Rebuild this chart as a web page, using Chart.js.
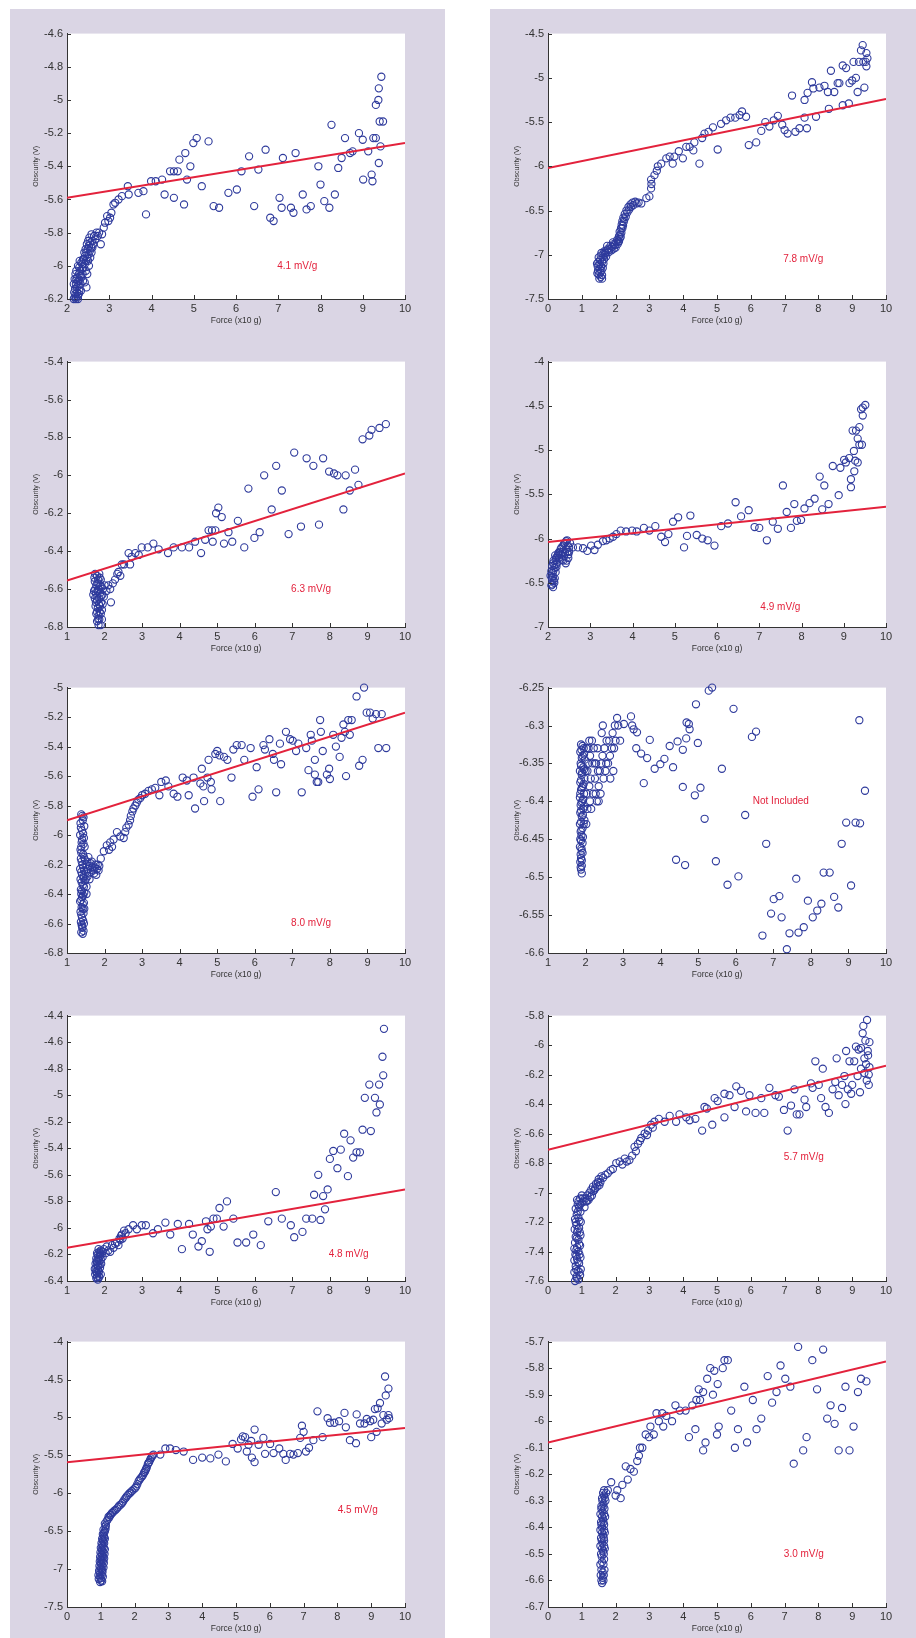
<!DOCTYPE html>
<html>
<head>
<meta charset="utf-8">
<script src="https://cdn.jsdelivr.net/npm/chart.js@4.4.1/dist/chart.umd.min.js"></script>
<style>
  body { margin: 0; width: 916px; height: 1638px; background: #fff; position: relative; overflow: hidden; }
  .band { position: absolute; top: 9px; bottom: 0; background: #dad5e4; }
  canvas.sub { position: absolute; }
</style>
</head>
<body>
<div class="band" style="left:10px;width:435px"></div>
<div class="band" style="left:490px;width:426px"></div>
<script>
// ---- data: [force (x10 g), obscurity (V)] ----

// left, row 1 : 4.1 mV/g
const p1Pts = [
  [2.18,-6.19],[2.2,-6.17],[2.22,-6.19],[2.24,-6.16],[2.19,-6.14],[2.23,-6.13],[2.26,-6.18],[2.21,-6.11],
  [2.25,-6.1],[2.18,-6.08],[2.2,-6.05],[2.24,-6.07],[2.27,-6.12],[2.29,-6.15],[2.3,-6.09],[2.28,-6.05],
  [2.32,-6.11],[2.31,-6.03],[2.34,-6.07],[2.35,-6.02],[2.37,-6.05],[2.36,-5.99],[2.39,-6.01],[2.4,-5.96],
  [2.42,-5.99],[2.43,-5.94],[2.45,-5.97],[2.46,-5.92],[2.48,-5.95],[2.49,-5.9],[2.51,-5.93],[2.52,-5.88],
  [2.54,-5.91],[2.55,-5.86],[2.57,-5.89],[2.6,-5.85],[2.62,-5.87],[2.64,-5.82],[2.67,-5.84],[2.7,-5.8],
  [2.73,-5.82],[2.76,-5.8],[2.8,-5.87],[2.83,-5.81],[2.87,-5.77],[2.9,-5.74],[2.95,-5.7],[2.98,-5.73],
  [3.02,-5.71],[3.05,-5.68],[3.1,-5.63],[3.14,-5.62],[3.22,-5.6],[3.3,-5.58],[3.44,-5.52],[3.46,-5.57],
  [3.69,-5.56],[3.81,-5.55],[3.87,-5.69],[3.99,-5.49],[4.1,-5.49],[4.25,-5.48],[4.31,-5.57],[4.44,-5.43],
  [4.53,-5.43],[4.53,-5.59],[4.62,-5.43],[4.66,-5.36],[4.77,-5.63],[4.8,-5.32],[4.84,-5.48],[4.92,-5.4],
  [4.99,-5.26],[5.07,-5.23],[5.19,-5.52],[5.35,-5.25],[5.47,-5.64],[5.6,-5.65],[5.82,-5.56],[6.02,-5.54],
  [6.13,-5.43],[6.31,-5.34],[6.43,-5.64],[6.53,-5.42],[6.7,-5.3],[6.81,-5.71],[6.89,-5.73],[7.03,-5.59],
  [7.08,-5.65],[7.11,-5.35],[7.3,-5.65],[7.36,-5.68],[7.41,-5.32],[7.58,-5.57],[7.67,-5.66],[7.77,-5.64],
  [7.95,-5.4],[8.0,-5.51],[8.09,-5.61],[8.21,-5.65],[8.26,-5.15],[8.34,-5.57],[8.42,-5.41],[8.5,-5.35],
  [8.58,-5.23],[8.7,-5.32],[8.76,-5.31],[8.91,-5.2],[9.0,-5.24],[9.01,-5.48],[9.13,-5.31],[9.21,-5.45],
  [9.23,-5.49],[9.25,-5.23],[9.31,-5.23],[9.38,-5.38],[9.31,-5.03],[9.37,-5.0],[9.38,-4.93],[9.44,-4.86],
  [9.4,-5.13],[9.48,-5.13],[9.42,-5.28],
  [2.16,-6.2],[2.21,-6.2],[2.26,-6.2],[2.17,-6.16],[2.28,-6.17],[2.16,-6.11],[2.27,-6.09],[2.22,-6.08],
  [2.32,-6.06],[2.29,-6.01],[2.34,-5.98],[2.38,-5.96],[2.41,-5.92],[2.44,-5.9],[2.47,-5.87],[2.5,-5.85],
  [2.53,-5.83],[2.58,-5.81],[2.22,-6.03],[2.26,-6.0],[2.3,-5.97],[2.5,-5.97],[2.45,-6.03],[2.38,-6.09],
  [2.33,-6.15],[2.42,-6.1],[2.48,-6.05],[2.52,-6.0],[2.46,-6.13],[2.55,-5.95],[2.58,-5.92],[2.6,-5.89]
];
const p1Fit = [[2, -5.59], [10, -5.26]];

// right, row 1 : 7.8 mV/g
const p2Pts = [
  [1.52,-7.27],[1.56,-7.25],[1.5,-7.22],[1.55,-7.2],[1.48,-7.18],[1.53,-7.16],[1.58,-7.18],[1.47,-7.13],
  [1.52,-7.11],[1.57,-7.13],[1.49,-7.08],[1.54,-7.06],[1.6,-7.08],[1.5,-7.03],[1.56,-7.01],[1.62,-7.03],
  [1.58,-6.98],[1.64,-6.99],[1.67,-6.96],[1.7,-6.98],[1.74,-6.95],[1.78,-6.93],[1.82,-6.94],[1.85,-6.9],
  [1.9,-6.91],[1.94,-6.88],[1.98,-6.89],[2.02,-6.86],[2.05,-6.83],[2.08,-6.85],[2.1,-6.79],[2.12,-6.74],
  [2.14,-6.77],[2.16,-6.7],[2.18,-6.66],[2.2,-6.62],[2.23,-6.58],[2.27,-6.54],[2.32,-6.5],[2.38,-6.46],
  [2.44,-6.43],[2.5,-6.41],[2.58,-6.4],[2.76,-6.42],[2.91,-6.36],[3.0,-6.34],[3.05,-6.25],[3.06,-6.2],
  [3.05,-6.15],[3.15,-6.1],[3.22,-6.05],[3.25,-6.0],[3.35,-5.97],[3.5,-5.91],[3.6,-5.89],[3.69,-5.97],
  [3.74,-5.89],[3.87,-5.83],[3.99,-5.91],[4.09,-5.78],[4.19,-5.78],[4.3,-5.82],[4.33,-5.73],[4.48,-5.97],
  [4.56,-5.68],[4.63,-5.63],[4.75,-5.61],[4.88,-5.56],[5.02,-5.81],[5.12,-5.52],[5.27,-5.48],[5.4,-5.45],
  [5.54,-5.45],[5.67,-5.42],[5.74,-5.38],[5.86,-5.44],[5.94,-5.76],[6.16,-5.73],[6.31,-5.6],[6.43,-5.5],
  [6.55,-5.55],[6.68,-5.48],[6.8,-5.43],[6.93,-5.53],[7.0,-5.59],[7.09,-5.63],[7.22,-5.2],[7.32,-5.61],
  [7.44,-5.57],[7.59,-5.45],[7.66,-5.57],[7.59,-5.25],[7.68,-5.17],[7.81,-5.05],[7.85,-5.12],[7.93,-5.44],
  [8.03,-5.11],[8.18,-5.09],[8.31,-5.35],[8.28,-5.16],[8.37,-4.92],[8.47,-5.16],[8.57,-5.06],[8.62,-5.06],
  [8.72,-5.31],[8.72,-4.86],[8.82,-4.89],[8.9,-5.29],[8.92,-5.06],[9.0,-5.03],[9.04,-4.82],[9.11,-5.0],
  [9.16,-5.16],[9.2,-4.82],[9.26,-4.69],[9.31,-4.63],[9.33,-4.82],[9.36,-5.11],[9.4,-4.82],[9.42,-4.72],
  [9.42,-4.87],[9.45,-4.78],
  [1.6,-7.23],[1.62,-7.15],[1.64,-7.1],[1.46,-7.21],[1.45,-7.1],[1.6,-7.27],[1.66,-7.05],[1.68,-7.0],
  [1.72,-7.02],[1.75,-6.9],[1.8,-6.97],[1.88,-6.95],[1.95,-6.93],[2.0,-6.92],[1.92,-6.86],[2.06,-6.88],
  [2.1,-6.85],[2.12,-6.82],[2.15,-6.8],[2.17,-6.75],[2.2,-6.7],[2.22,-6.67],[2.24,-6.63],[2.26,-6.6],
  [2.3,-6.57],[2.35,-6.52],[2.4,-6.49],[2.45,-6.46],[2.52,-6.44],[2.62,-6.42],[2.68,-6.41]
];
const p2Fit = [[0, -6.02], [10, -5.24]];

// left, row 2 : 6.3 mV/g
const p3Pts = [
  [1.75,-6.52],[1.8,-6.53],[1.86,-6.52],[1.9,-6.55],[1.74,-6.56],[1.78,-6.58],[1.84,-6.57],[1.92,-6.59],
  [1.72,-6.61],[1.77,-6.62],[1.82,-6.61],[1.88,-6.62],[1.94,-6.63],[1.74,-6.65],[1.8,-6.66],[1.86,-6.65],
  [1.91,-6.67],[1.76,-6.69],[1.82,-6.7],[1.88,-6.69],[1.93,-6.71],[1.78,-6.73],[1.84,-6.74],[1.9,-6.73],
  [1.8,-6.77],[1.86,-6.76],[1.9,-6.79],[1.96,-6.6],[2.0,-6.58],[1.98,-6.64],[2.05,-6.61],[2.1,-6.58],
  [2.17,-6.67],[2.15,-6.6],[2.22,-6.57],[2.28,-6.55],[2.34,-6.52],[2.37,-6.51],[2.42,-6.53],[2.46,-6.47],
  [2.52,-6.47],[2.64,-6.41],[2.68,-6.47],[2.72,-6.43],[2.82,-6.41],[2.91,-6.42],[2.99,-6.38],[3.15,-6.38],
  [3.3,-6.36],[3.44,-6.39],[3.69,-6.41],[3.84,-6.38],[4.06,-6.38],[4.25,-6.38],[4.41,-6.35],[4.57,-6.41],
  [4.68,-6.34],[4.77,-6.29],[4.86,-6.29],[4.88,-6.35],[4.95,-6.29],[4.97,-6.2],[5.03,-6.17],[5.12,-6.22],
  [5.18,-6.36],[5.3,-6.3],[5.4,-6.35],[5.55,-6.24],[5.72,-6.38],[5.83,-6.07],[5.99,-6.33],[6.13,-6.3],
  [6.25,-6.0],[6.45,-6.18],[6.57,-5.95],[6.72,-6.08],[6.9,-6.31],[7.05,-5.88],[7.23,-6.27],[7.38,-5.91],
  [7.56,-5.95],[7.71,-6.26],[7.82,-5.91],[7.98,-5.98],[8.11,-5.99],[8.2,-6.0],[8.36,-6.18],[8.42,-6.0],
  [8.53,-6.08],[8.67,-5.97],[8.76,-6.05],[8.87,-5.81],[9.05,-5.79],[9.11,-5.76],[9.32,-5.75],[9.49,-5.73],
  [1.73,-6.54],[1.83,-6.55],[1.89,-6.58],[1.75,-6.6],[1.85,-6.6],[1.79,-6.64],[1.9,-6.64],[1.77,-6.67],
  [1.85,-6.68],[1.8,-6.72],[1.87,-6.72],[1.83,-6.76],[1.93,-6.76],[1.84,-6.79],[1.7,-6.63],[1.95,-6.68],
  [1.81,-6.57],[1.87,-6.54]
];
const p3Fit = [[1, -6.555], [10, -5.99]];

// right, row 2 : 4.9 mV/g
const p4Pts = [
  [2.08,-6.53],[2.12,-6.55],[2.15,-6.5],[2.1,-6.47],[2.06,-6.42],[2.12,-6.43],[2.16,-6.45],[2.08,-6.37],
  [2.13,-6.36],[2.18,-6.38],[2.1,-6.31],[2.15,-6.3],[2.2,-6.32],[2.13,-6.25],[2.18,-6.24],[2.22,-6.27],
  [2.17,-6.19],[2.22,-6.2],[2.26,-6.22],[2.25,-6.16],[2.3,-6.18],[2.33,-6.24],[2.3,-6.12],[2.35,-6.15],
  [2.38,-6.2],[2.36,-6.08],[2.4,-6.05],[2.42,-6.12],[2.44,-6.25],[2.45,-6.02],[2.47,-6.08],[2.48,-6.18],
  [2.5,-6.1],[2.52,-6.05],[2.59,-6.1],[2.71,-6.1],[2.83,-6.11],[2.93,-6.14],[3.02,-6.08],[3.1,-6.13],
  [3.18,-6.07],[3.3,-6.03],[3.38,-6.02],[3.46,-6.0],[3.54,-5.98],[3.62,-5.95],[3.72,-5.91],[3.85,-5.92],
  [3.99,-5.91],[4.1,-5.92],[4.27,-5.88],[4.4,-5.91],[4.54,-5.86],[4.68,-5.98],[4.77,-6.04],[4.85,-5.95],
  [4.96,-5.81],[5.08,-5.76],[5.22,-6.1],[5.29,-5.97],[5.37,-5.74],[5.52,-5.96],[5.65,-6.0],[5.78,-6.02],
  [5.94,-6.08],[6.1,-5.86],[6.26,-5.83],[6.44,-5.59],[6.57,-5.75],[6.75,-5.68],[6.89,-5.87],[7.0,-5.88],
  [7.18,-6.02],[7.32,-5.81],[7.44,-5.89],[7.56,-5.4],[7.65,-5.7],[7.75,-5.88],[7.83,-5.61],[7.89,-5.8],
  [7.99,-5.79],[8.07,-5.66],[8.19,-5.6],[8.31,-5.55],[8.43,-5.3],[8.49,-5.67],[8.54,-5.4],[8.64,-5.61],
  [8.74,-5.18],[8.88,-5.51],[8.92,-5.2],[9.01,-5.11],[9.05,-5.14],[9.13,-5.09],[9.17,-5.33],[9.17,-5.42],
  [9.21,-4.78],[9.24,-5.01],[9.25,-5.24],[9.27,-5.12],[9.29,-4.78],[9.33,-4.87],[9.33,-5.14],[9.37,-4.74],
  [9.37,-4.94],[9.41,-4.54],[9.43,-4.94],[9.45,-4.61],[9.45,-4.52],[9.51,-4.49],
  [2.1,-6.52],[2.14,-6.48],[2.09,-6.44],[2.11,-6.39],[2.16,-6.33],[2.12,-6.28],[2.2,-6.29],[2.19,-6.22],
  [2.24,-6.18],[2.28,-6.15],[2.32,-6.1],[2.38,-6.06],[2.43,-6.03],[2.46,-6.15],[2.4,-6.16],[2.36,-6.25],
  [2.42,-6.28],[2.48,-6.22],[2.5,-6.15]
];
const p4Fit = [[2, -6.04], [10, -5.64]];

// left, row 3 : 8.0 mV/g
const p5Pts = [
  [1.38,-5.86],[1.44,-5.88],[1.36,-5.92],[1.46,-5.94],[1.4,-5.97],[1.35,-6.0],[1.45,-6.02],[1.39,-6.05],
  [1.47,-6.08],[1.36,-6.1],[1.43,-6.13],[1.37,-6.16],[1.48,-6.17],[1.41,-6.2],[1.35,-6.23],[1.46,-6.24],
  [1.4,-6.27],[1.36,-6.3],[1.47,-6.31],[1.42,-6.34],[1.37,-6.37],[1.46,-6.39],[1.4,-6.42],[1.35,-6.45],
  [1.45,-6.46],[1.39,-6.49],[1.36,-6.52],[1.44,-6.53],[1.4,-6.56],[1.37,-6.59],[1.45,-6.6],[1.41,-6.63],
  [1.38,-6.66],[1.44,-6.65],[1.42,-5.9],[1.38,-6.08],[1.44,-6.28],[1.38,-6.4],[1.42,-6.5],[1.4,-6.62],
  [1.41,-5.87],[1.37,-5.95],[1.43,-5.99],[1.4,-6.03],[1.44,-6.06],[1.38,-6.12],[1.45,-6.15],[1.39,-6.18],
  [1.43,-6.22],[1.38,-6.25],[1.44,-6.29],[1.39,-6.32],[1.45,-6.35],[1.4,-6.38],[1.43,-6.41],[1.38,-6.44],
  [1.42,-6.47],[1.46,-6.5],[1.38,-6.54],[1.43,-6.58],[1.39,-6.61],[1.42,-6.67],
  [1.52,-6.2],[1.56,-6.23],[1.6,-6.21],[1.64,-6.25],[1.68,-6.22],[1.72,-6.26],[1.76,-6.2],[1.8,-6.23],
  [1.55,-6.28],[1.6,-6.3],[1.52,-6.35],[1.57,-6.15],[1.66,-6.18],[1.84,-6.24],[1.9,-6.16],[1.98,-6.11],
  [1.5,-6.25],[1.54,-6.18],[1.58,-6.26],[1.62,-6.19],[1.7,-6.24],[1.74,-6.22],[1.78,-6.27],[1.82,-6.2],
  [1.86,-6.21],[1.5,-6.3],[1.52,-6.4],
  [2.06,-6.07],[2.12,-6.1],[2.15,-6.05],[2.2,-6.08],[2.24,-6.03],[2.33,-5.98],[2.42,-6.01],[2.51,-6.02],
  [2.55,-5.98],[2.58,-5.95],[2.64,-5.93],[2.68,-5.9],[2.7,-5.87],[2.74,-5.84],[2.77,-5.82],[2.82,-5.8],
  [2.86,-5.78],[2.9,-5.76],[2.95,-5.75],[3.0,-5.73],[3.08,-5.72],[3.17,-5.7],[3.26,-5.69],[3.35,-5.68],
  [3.46,-5.73],[3.51,-5.64],[3.63,-5.63],[3.7,-5.67],[3.84,-5.72],[3.94,-5.74],[4.08,-5.61],[4.19,-5.63],
  [4.24,-5.73],[4.37,-5.61],[4.41,-5.82],[4.55,-5.65],[4.59,-5.55],[4.63,-5.67],[4.65,-5.77],[4.74,-5.61],
  [4.77,-5.49],[4.83,-5.64],[4.85,-5.69],[4.95,-5.45],[5.0,-5.43],[5.06,-5.46],[5.08,-5.77],[5.18,-5.47],
  [5.27,-5.49],[5.38,-5.61],[5.43,-5.42],[5.52,-5.39],[5.65,-5.39],[5.72,-5.49],[5.89,-5.41],[5.94,-5.74],
  [6.05,-5.54],[6.1,-5.69],[6.23,-5.39],[6.27,-5.42],[6.39,-5.35],[6.48,-5.45],[6.51,-5.49],[6.57,-5.71],
  [6.67,-5.38],[6.7,-5.52],[6.83,-5.3],[6.94,-5.35],[7.01,-5.36],[7.1,-5.43],[7.16,-5.38],[7.25,-5.71],
  [7.37,-5.41],[7.43,-5.56],[7.49,-5.32],[7.52,-5.36],[7.6,-5.49],[7.6,-5.59],[7.65,-5.64],[7.69,-5.64],
  [7.74,-5.22],[7.76,-5.3],[7.81,-5.43],[7.92,-5.59],[7.98,-5.55],[8.0,-5.62],[8.09,-5.32],[8.16,-5.4],
  [8.26,-5.47],[8.31,-5.34],[8.36,-5.25],[8.4,-5.3],[8.43,-5.6],[8.49,-5.22],[8.53,-5.32],[8.58,-5.22],
  [8.71,-5.06],[8.78,-5.53],[8.87,-5.49],[8.91,-5.0],[8.98,-5.17],[9.07,-5.17],[9.14,-5.21],[9.23,-5.18],
  [9.29,-5.41],[9.38,-5.18],[9.5,-5.41]
];
const p5Fit = [[1, -5.9], [10, -5.17]];

// right, row 3 : not included (no fit)
const p6Pts = [
  [1.88,-6.325],[1.95,-6.33],[1.86,-6.335],[1.92,-6.34],[1.98,-6.345],[1.87,-6.35],[1.94,-6.355],[1.85,-6.36],
  [1.9,-6.365],[1.97,-6.37],[1.86,-6.375],[1.93,-6.38],[1.88,-6.385],[1.96,-6.39],[1.85,-6.395],[1.91,-6.4],
  [1.87,-6.405],[1.94,-6.41],[1.86,-6.415],[1.9,-6.42],[1.97,-6.425],[1.85,-6.43],[1.92,-6.435],[1.87,-6.44],
  [1.89,-6.445],[1.86,-6.45],[1.92,-6.455],[1.85,-6.46],[1.9,-6.465],[1.87,-6.47],[1.88,-6.475],[1.86,-6.48],
  [1.9,-6.485],[1.88,-6.49],[1.9,-6.495],
  [1.92,-6.327],[1.89,-6.332],[1.96,-6.338],[1.9,-6.343],[1.88,-6.353],[1.96,-6.358],[1.91,-6.362],[1.88,-6.372],
  [1.95,-6.377],[1.9,-6.382],[1.86,-6.39],[1.93,-6.397],[1.89,-6.402],[1.96,-6.407],[1.88,-6.412],[1.93,-6.418],
  [1.88,-6.427],[1.95,-6.43],[1.89,-6.438],[1.93,-6.447],[1.88,-6.452],[1.89,-6.462],[1.92,-6.468],[1.9,-6.478],
  [1.87,-6.487],
  [2.02,-6.33],[2.05,-6.36],[2.08,-6.33],[2.1,-6.38],[2.12,-6.34],[2.15,-6.41],[2.18,-6.35],[2.2,-6.39],
  [2.22,-6.33],[2.25,-6.37],[2.28,-6.35],[2.3,-6.4],[2.32,-6.33],[2.35,-6.38],[2.38,-6.36],[2.4,-6.39],
  [2.43,-6.31],[2.45,-6.34],[2.48,-6.37],[2.5,-6.33],[2.53,-6.36],[2.56,-6.32],[2.6,-6.35],[2.63,-6.32],
  [2.66,-6.37],[2.7,-6.33],[2.72,-6.31],[2.76,-6.33],[2.8,-6.32],[2.84,-6.29],[2.87,-6.3],[2.92,-6.32],
  [2.02,-6.43],[2.05,-6.41],[2.12,-6.4],[2.35,-6.4],
  [2.0,-6.36],[2.03,-6.39],[2.07,-6.35],[2.1,-6.32],[2.14,-6.37],[2.17,-6.32],[2.24,-6.35],[2.27,-6.39],
  [2.33,-6.36],[2.42,-6.35],[2.46,-6.3],[2.55,-6.35],[2.65,-6.34],[2.74,-6.36],[2.78,-6.3],
  [3.02,-6.298],[3.21,-6.288],[3.24,-6.3],[3.28,-6.305],[3.37,-6.309],[3.35,-6.33],[3.48,-6.337],[3.64,-6.343],
  [3.55,-6.376],[3.71,-6.319],[3.84,-6.357],[3.99,-6.351],[4.1,-6.344],[4.24,-6.327],[4.33,-6.355],[4.45,-6.321],
  [4.41,-6.477],[4.59,-6.332],[4.59,-6.381],[4.65,-6.484],[4.68,-6.317],[4.69,-6.296],[4.75,-6.298],[4.77,-6.305],
  [4.91,-6.392],[4.94,-6.272],[4.99,-6.323],[5.06,-6.382],[5.17,-6.423],[5.28,-6.254],[5.37,-6.25],[5.47,-6.479],
  [5.63,-6.357],[5.78,-6.51],[5.94,-6.278],[6.07,-6.499],[6.25,-6.418],[6.43,-6.315],[6.54,-6.308],[6.71,-6.577],
  [6.81,-6.456],[6.94,-6.548],[7.01,-6.529],[7.16,-6.525],[7.22,-6.553],[7.36,-6.595],[7.43,-6.574],[7.61,-6.502],
  [7.67,-6.573],[7.81,-6.566],[7.92,-6.531],[8.05,-6.553],[8.17,-6.544],[8.28,-6.535],[8.34,-6.494],[8.5,-6.494],
  [8.62,-6.526],[8.73,-6.54],[8.82,-6.456],[8.94,-6.428],[9.07,-6.511],[9.19,-6.428],[9.29,-6.293],[9.31,-6.429],
  [9.44,-6.386]
];
const p6Fit = [];

// left, row 4 : 4.8 mV/g
const p7Pts = [
  [1.78,-6.38],[1.82,-6.39],[1.86,-6.37],[1.75,-6.35],[1.8,-6.34],[1.85,-6.33],[1.9,-6.35],[1.74,-6.31],
  [1.78,-6.3],[1.83,-6.29],[1.88,-6.3],[1.76,-6.27],[1.8,-6.26],[1.86,-6.25],[1.91,-6.27],[1.78,-6.23],
  [1.83,-6.22],[1.88,-6.21],[1.8,-6.19],[1.86,-6.18],[1.92,-6.2],[1.84,-6.16],[1.9,-6.17],[1.95,-6.22],
  [1.8,-6.37],[1.84,-6.36],[1.77,-6.33],[1.83,-6.32],[1.87,-6.28],[1.81,-6.28],[1.79,-6.25],[1.84,-6.24],
  [1.9,-6.24],[1.82,-6.2],[1.88,-6.19],[1.94,-6.18],
  [1.98,-6.16],[2.03,-6.19],[2.06,-6.14],[2.1,-6.17],[2.15,-6.18],[2.2,-6.13],[2.24,-6.15],[2.28,-6.12],
  [2.33,-6.11],[2.37,-6.13],[2.4,-6.08],[2.42,-6.09],[2.44,-6.06],[2.46,-6.05],[2.48,-6.08],[2.52,-6.02],
  [2.56,-6.04],[2.64,-6.01],[2.76,-5.98],[2.86,-6.01],[2.99,-5.98],[3.1,-5.98],[3.29,-6.04],[3.42,-6.01],
  [3.62,-5.96],[3.75,-6.05],[3.95,-5.97],[4.06,-6.16],[4.25,-5.97],[4.35,-6.05],[4.5,-6.14],[4.59,-6.1],
  [4.7,-5.95],[4.74,-6.01],[4.8,-6.18],[4.83,-5.99],[4.9,-5.93],[4.99,-5.93],[5.06,-5.85],[5.17,-5.99],
  [5.26,-5.8],[5.43,-5.93],[5.54,-6.11],[5.77,-6.11],[5.96,-6.05],[6.16,-6.13],[6.36,-5.95],[6.56,-5.73],
  [6.72,-5.93],[6.96,-5.98],[7.05,-6.07],[7.27,-6.03],[7.37,-5.93],[7.53,-5.93],[7.58,-5.75],[7.69,-5.6],
  [7.75,-5.94],[7.82,-5.76],[7.87,-5.86],[7.94,-5.71],[8.0,-5.48],[8.09,-5.42],[8.2,-5.55],[8.29,-5.41],
  [8.38,-5.29],[8.48,-5.61],[8.55,-5.34],[8.62,-5.47],[8.71,-5.43],[8.8,-5.43],[8.87,-5.26],[8.93,-5.02],
  [9.05,-4.92],[9.09,-5.27],[9.2,-5.02],[9.24,-5.13],[9.31,-4.92],[9.33,-5.07],[9.42,-4.85],[9.4,-4.71],
  [9.44,-4.5]
];
const p7Fit = [[1, -6.15], [10, -5.71]];

// right, row 4 : 5.7 mV/g
const p8Pts = [
  [0.8,-7.6],[0.9,-7.59],[0.84,-7.57],[0.95,-7.56],[0.78,-7.54],[0.88,-7.53],[0.97,-7.52],[0.82,-7.5],
  [0.92,-7.48],[0.78,-7.46],[0.86,-7.45],[0.96,-7.44],[0.81,-7.42],[0.9,-7.4],[0.78,-7.38],[0.86,-7.37],
  [0.95,-7.36],[0.8,-7.34],[0.9,-7.32],[0.82,-7.3],[0.96,-7.29],[0.86,-7.27],[0.79,-7.25],[0.92,-7.24],
  [0.84,-7.22],[0.97,-7.2],[0.8,-7.18],[0.9,-7.17],[0.85,-7.15],[0.96,-7.13],[0.82,-7.11],[0.92,-7.1],
  [0.88,-7.08],[1.0,-7.07],[0.86,-7.05],[0.95,-7.04],[1.0,-7.02],[1.05,-7.06],[1.08,-7.1],[1.12,-7.06],
  [0.85,-7.58],[0.93,-7.54],[0.83,-7.52],[0.88,-7.47],[0.84,-7.43],[0.93,-7.42],[0.84,-7.39],[0.92,-7.35],
  [0.85,-7.31],[0.94,-7.27],[0.88,-7.25],[0.82,-7.2],[0.93,-7.19],[0.88,-7.13],[0.95,-7.08],[0.9,-7.06],
  [1.03,-7.04],[1.1,-7.04],[1.15,-7.06],[1.25,-7.03],[1.35,-6.99],[1.4,-6.97],[1.48,-6.93],[1.52,-6.95],
  [1.16,-7.02],[1.2,-7.05],[1.23,-7.0],[1.28,-6.98],[1.3,-7.02],[1.33,-6.96],[1.38,-6.98],[1.42,-6.94],
  [1.46,-6.96],[1.5,-6.91],[1.55,-6.93],[1.58,-6.89],[1.63,-6.9],[1.7,-6.88],[1.77,-6.87],[1.85,-6.85],
  [1.92,-6.84],[2.02,-6.8],[2.12,-6.79],[2.2,-6.81],[2.27,-6.77],[2.33,-6.79],[2.41,-6.78],[2.49,-6.75],
  [2.56,-6.69],[2.6,-6.72],[2.66,-6.67],[2.72,-6.65],[2.76,-6.63],[2.86,-6.6],[2.93,-6.61],[2.96,-6.58],
  [3.05,-6.54],[3.1,-6.56],[3.15,-6.52],[3.28,-6.5],[3.45,-6.52],[3.6,-6.48],[3.79,-6.52],[3.89,-6.47],
  [4.09,-6.49],[4.19,-6.51],[4.36,-6.5],[4.56,-6.58],[4.63,-6.42],[4.7,-6.43],[4.86,-6.54],[4.93,-6.36],
  [5.02,-6.38],[5.22,-6.49],[5.22,-6.33],[5.37,-6.34],[5.52,-6.42],[5.57,-6.28],[5.71,-6.31],[5.86,-6.45],
  [5.96,-6.34],[6.14,-6.46],[6.31,-6.36],[6.4,-6.46],[6.55,-6.29],[6.73,-6.34],[6.83,-6.35],[6.98,-6.44],
  [7.09,-6.58],[7.19,-6.41],[7.29,-6.3],[7.36,-6.47],[7.44,-6.47],[7.59,-6.37],[7.64,-6.42],[7.78,-6.26],
  [7.83,-6.29],[7.91,-6.11],[8.01,-6.27],[8.08,-6.36],[8.13,-6.16],[8.21,-6.42],[8.31,-6.46],[8.42,-6.3],
  [8.5,-6.25],[8.54,-6.09],[8.6,-6.34],[8.7,-6.27],[8.77,-6.21],[8.8,-6.4],[8.82,-6.04],[8.87,-6.3],
  [8.92,-6.11],[8.97,-6.33],[9.0,-6.27],[9.06,-6.11],[9.11,-6.01],[9.16,-6.21],[9.19,-6.03],[9.23,-6.32],
  [9.26,-6.16],[9.26,-6.02],[9.31,-5.92],[9.33,-5.87],[9.36,-6.09],[9.36,-6.19],[9.39,-5.97],[9.41,-6.13],
  [9.43,-6.24],[9.46,-6.04],[9.49,-6.27],[9.51,-5.98],[9.51,-6.15],[9.49,-6.2],[9.44,-5.83],[9.47,-6.07]
];
const p8Fit = [[0, -6.71], [10, -6.14]];

// left, row 5 : 4.5 mV/g
const p9Pts = [
  [0.98,-7.17],[1.04,-7.16],[0.94,-7.13],[1.0,-7.12],[1.06,-7.1],[0.93,-7.08],[0.99,-7.06],[1.05,-7.04],
  [0.95,-7.02],[1.01,-7.0],[1.08,-6.98],[0.96,-6.96],[1.02,-6.94],[1.09,-6.92],[0.97,-6.9],[1.03,-6.88],
  [1.1,-6.86],[0.98,-6.84],[1.04,-6.82],[1.11,-6.8],[0.99,-6.78],[1.05,-6.76],[1.12,-6.74],[1.0,-6.72],
  [1.06,-6.7],[1.02,-6.66],[1.08,-6.64],[1.04,-6.6],[1.1,-6.58],[1.06,-6.54],[1.12,-6.5],[1.08,-6.48],
  [1.14,-6.44],[1.12,-6.4],[1.17,-6.37],[1.23,-6.31],[1.28,-6.29],[1.33,-6.26],[1.4,-6.23],[1.48,-6.2],
  [1.01,-7.15],[0.97,-7.1],[1.03,-7.08],[0.96,-7.04],[1.04,-7.02],[0.99,-6.98],[1.05,-6.96],[1.0,-6.92],
  [1.06,-6.9],[1.01,-6.86],[1.07,-6.84],[1.02,-6.8],[1.08,-6.78],[1.03,-6.74],[1.09,-6.72],[1.04,-6.68],
  [1.1,-6.66],[1.06,-6.62],[1.12,-6.6],[1.08,-6.56],[1.1,-6.52],[1.14,-6.47],[1.15,-6.42],[1.2,-6.35],
  [1.25,-6.32],[1.3,-6.28],[1.36,-6.25],[1.44,-6.22],[1.52,-6.18],[1.59,-6.15],[1.66,-6.11],[1.74,-6.06],
  [1.81,-6.02],[1.88,-5.99],[1.97,-5.95],[2.05,-5.91],[2.15,-5.82],[2.25,-5.76],[2.3,-5.72],[2.34,-5.68],
  [2.41,-5.6],[2.48,-5.54],[2.53,-5.5],
  [1.55,-6.16],[1.63,-6.13],[1.7,-6.08],[1.77,-6.04],[1.85,-6.0],[1.92,-5.97],[2.02,-5.93],[2.08,-5.88],
  [2.12,-5.84],[2.18,-5.8],[2.22,-5.78],[2.28,-5.73],[2.32,-5.7],[2.36,-5.66],[2.39,-5.62],[2.43,-5.59],
  [2.46,-5.56],[2.51,-5.52],[2.56,-5.49],[2.76,-5.49],[2.91,-5.41],[3.05,-5.41],[3.22,-5.43],[3.45,-5.45],
  [3.73,-5.56],[4.0,-5.53],[4.24,-5.54],[4.48,-5.49],[4.7,-5.58],[4.9,-5.35],[5.05,-5.41],[5.15,-5.29],
  [5.2,-5.25],[5.27,-5.26],[5.32,-5.45],[5.37,-5.36],[5.45,-5.31],[5.47,-5.53],[5.55,-5.16],[5.55,-5.59],
  [5.67,-5.36],[5.81,-5.27],[5.86,-5.48],[6.01,-5.35],[6.11,-5.47],[6.28,-5.41],[6.4,-5.48],[6.47,-5.56],
  [6.6,-5.48],[6.7,-5.49],[6.83,-5.47],[6.9,-5.27],[6.95,-5.11],[7.0,-5.19],[7.07,-5.45],[7.16,-5.4],
  [7.29,-5.3],[7.41,-4.92],[7.56,-5.26],[7.71,-5.01],[7.78,-5.07],[7.91,-5.07],[8.05,-5.05],[8.21,-4.94],
  [8.25,-5.13],[8.37,-5.3],[8.55,-5.34],[8.57,-4.96],[8.67,-5.08],[8.8,-5.08],[8.87,-5.02],[8.97,-5.05],
  [9.0,-5.26],[9.06,-5.03],[9.11,-4.89],[9.16,-5.19],[9.19,-4.88],[9.26,-4.81],[9.31,-5.08],[9.36,-4.97],
  [9.41,-4.46],[9.43,-4.71],[9.46,-5.03],[9.51,-4.62],[9.51,-4.97],[9.53,-5.01]
];
const p9Fit = [[0, -5.59], [10, -5.14]];

// right, row 5 : 3.0 mV/g
const p10Pts = [
  [1.6,-6.61],[1.64,-6.6],[1.56,-6.58],[1.62,-6.57],[1.67,-6.56],[1.55,-6.54],[1.6,-6.53],[1.66,-6.52],
  [1.57,-6.5],[1.63,-6.49],[1.68,-6.48],[1.55,-6.47],[1.61,-6.46],[1.66,-6.45],[1.57,-6.44],[1.63,-6.43],
  [1.68,-6.42],[1.55,-6.41],[1.6,-6.4],[1.66,-6.39],[1.57,-6.38],[1.63,-6.37],[1.69,-6.36],[1.55,-6.35],
  [1.61,-6.34],[1.67,-6.33],[1.58,-6.32],[1.64,-6.31],[1.7,-6.3],[1.6,-6.29],[1.66,-6.28],[1.72,-6.27],
  [1.58,-6.6],[1.62,-6.59],[1.65,-6.58],[1.58,-6.56],[1.64,-6.54],[1.59,-6.51],[1.65,-6.5],[1.6,-6.48],
  [1.66,-6.47],[1.59,-6.45],[1.65,-6.44],[1.6,-6.42],[1.66,-6.41],[1.58,-6.39],[1.64,-6.38],[1.6,-6.36],
  [1.66,-6.35],[1.58,-6.33],[1.64,-6.32],[1.61,-6.3],[1.68,-6.29],[1.63,-6.27],
  [1.66,-6.26],[1.77,-6.26],[1.87,-6.23],[2.0,-6.28],[2.05,-6.26],[2.15,-6.29],[2.2,-6.24],[2.3,-6.17],
  [2.36,-6.22],[2.44,-6.18],[2.54,-6.19],[2.64,-6.15],[2.69,-6.13],[2.72,-6.1],[2.79,-6.1],[2.89,-6.05],
  [2.99,-6.06],[3.03,-6.02],[3.13,-6.05],[3.21,-5.97],[3.28,-6.0],[3.38,-5.97],[3.41,-6.02],[3.5,-5.98],
  [3.67,-6.0],[3.77,-5.94],[3.9,-5.96],[4.07,-5.96],[4.17,-6.06],[4.27,-5.94],[4.36,-6.03],[4.39,-5.92],
  [4.46,-5.88],[4.5,-5.92],[4.59,-6.11],[4.66,-6.08],[4.59,-5.89],[4.71,-5.84],[4.8,-5.8],[4.92,-5.81],
  [4.88,-5.9],[5.02,-5.86],[5.0,-6.05],[5.05,-6.02],[5.17,-5.8],[5.22,-5.77],[5.32,-5.77],[5.42,-5.96],
  [5.53,-6.1],[5.62,-6.03],[5.81,-5.87],[5.89,-6.08],[6.06,-5.92],[6.17,-6.03],[6.31,-5.99],[6.5,-5.83],
  [6.63,-5.93],[6.76,-5.89],[6.88,-5.79],[7.02,-5.84],[7.17,-5.87],[7.27,-6.16],[7.4,-5.72],[7.55,-6.11],
  [7.65,-6.06],[7.82,-5.77],[7.96,-5.88],[8.14,-5.73],[8.26,-5.99],[8.36,-5.94],[8.48,-6.01],[8.6,-6.11],
  [8.7,-5.95],[8.8,-5.87],[8.92,-6.11],[9.04,-6.02],[9.17,-5.89],[9.26,-5.84],[9.42,-5.85]
];
const p10Fit = [[0, -6.08], [10, -5.775]];

// axis ranges: [min, max, step]
const p1X = [2, 10, 1],  p1Y = [-6.2, -4.6, 0.2];
const p2X = [0, 10, 1],  p2Y = [-7.5, -4.5, 0.5];
const p3X = [1, 10, 1],  p3Y = [-6.8, -5.4, 0.2];
const p4X = [2, 10, 1],  p4Y = [-7, -4, 0.5];
const p5X = [1, 10, 1],  p5Y = [-6.8, -5, 0.2];
const p6X = [1, 10, 1],  p6Y = [-6.6, -6.25, 0.05];
const p7X = [1, 10, 1],  p7Y = [-6.4, -4.4, 0.2];
const p8X = [0, 10, 1],  p8Y = [-7.6, -5.8, 0.2];
const p9X = [0, 10, 1],  p9Y = [-7.5, -4, 0.5];
const p10X = [0, 10, 1], p10Y = [-6.7, -5.7, 0.1];

const sensLabels = ['4.1 mV/g', '7.8 mV/g', '6.3 mV/g', '4.9 mV/g', '8.0 mV/g',
                    'Not Included', '4.8 mV/g', '5.7 mV/g', '4.5 mV/g', '3.0 mV/g'];

// ---- layout ----
const panels = [
  { pts: p1Pts,  fit: p1Fit,  xr: p1X,  yr: p1Y,  note: [7.45, -6.0] },
  { pts: p2Pts,  fit: p2Fit,  xr: p2X,  yr: p2Y,  note: [7.55, -7.05] },
  { pts: p3Pts,  fit: p3Fit,  xr: p3X,  yr: p3Y,  note: [7.5, -6.6] },
  { pts: p4Pts,  fit: p4Fit,  xr: p4X,  yr: p4Y,  note: [7.5, -6.78] },
  { pts: p5Pts,  fit: p5Fit,  xr: p5X,  yr: p5Y,  note: [7.5, -6.6] },
  { pts: p6Pts,  fit: p6Fit,  xr: p6X,  yr: p6Y,  note: [7.2, -6.4] },
  { pts: p7Pts,  fit: p7Fit,  xr: p7X,  yr: p7Y,  note: [8.5, -6.2] },
  { pts: p8Pts,  fit: p8Fit,  xr: p8X,  yr: p8Y,  note: [7.57, -6.76] },
  { pts: p9Pts,  fit: p9Fit,  xr: p9X,  yr: p9Y,  note: [8.6, -6.22] },
  { pts: p10Pts, fit: p10Fit, xr: p10X, yr: p10Y, note: [7.57, -6.5] }
];
const colLeft = [7, 488];
const rowTop = [23, 351, 677, 1005, 1331];
const CW = 414, CH = 312;

const INK = '#333';
const DOT = '#2e3a9c';
const FIT = '#e3223c';
Chart.defaults.font.family = '"Liberation Sans", Arial, sans-serif';

function fmt(v) {
  return String(Number(v.toFixed(3)));
}

const plotBg = {
  id: 'plotBg',
  beforeDraw(chart) {
    const a = chart.chartArea;
    const ctx = chart.ctx;
    ctx.save();
    ctx.fillStyle = '#fff';
    ctx.fillRect(a.left, a.top, a.right - a.left, a.bottom - a.top);
    ctx.restore();
  }
};

// matlab style ticks pointing into the plot
const inTicks = {
  id: 'inTicks',
  afterDraw(chart) {
    const a = chart.chartArea;
    const ctx = chart.ctx;
    const sx = chart.scales.x, sy = chart.scales.y;
    ctx.save();
    ctx.strokeStyle = INK;
    ctx.lineWidth = 1;
    ctx.beginPath();
    sx.ticks.forEach(t => {
      const px = Math.round(sx.getPixelForValue(t.value)) + 0.5;
      ctx.moveTo(px, a.bottom);
      ctx.lineTo(px, a.bottom - 4);
    });
    sy.ticks.forEach(t => {
      const py = Math.round(sy.getPixelForValue(t.value)) + 0.5;
      ctx.moveTo(a.left, py);
      ctx.lineTo(a.left + 4, py);
    });
    ctx.stroke();
    ctx.restore();
  }
};

const sensNote = {
  id: 'sensNote',
  afterDatasetsDraw(chart, args, opts) {
    const ctx = chart.ctx;
    ctx.save();
    ctx.font = '10px "Liberation Sans", Arial, sans-serif';
    ctx.fillStyle = FIT;
    ctx.textAlign = 'center';
    ctx.textBaseline = 'middle';
    ctx.fillText(opts.text, chart.scales.x.getPixelForValue(opts.at[0]), chart.scales.y.getPixelForValue(opts.at[1]));
    ctx.restore();
  }
};

panels.forEach((p, i) => {
  const cv = document.createElement('canvas');
  cv.className = 'sub';
  cv.width = CW;
  cv.height = CH;
  cv.style.left = colLeft[i % 2] + 'px';
  cv.style.top = rowTop[Math.floor(i / 2)] + 'px';
  cv.style.width = CW + 'px';
  cv.style.height = CH + 'px';
  document.body.appendChild(cv);

  const datasets = [];
  if (p.fit.length) {
    datasets.push({
      type: 'line',
      data: p.fit.map(d => ({ x: d[0], y: d[1] })),
      borderColor: FIT,
      borderWidth: 2,
      pointRadius: 0,
      fill: false
    });
  }
  datasets.push({
    type: 'scatter',
    data: p.pts.map(d => ({ x: d[0], y: d[1] })),
    pointStyle: 'circle',
    pointRadius: 3.6,
    pointBorderWidth: 1.1,
    borderColor: DOT,
    backgroundColor: 'rgba(0,0,0,0)',
    clip: false
  });

  new Chart(cv, {
    type: 'scatter',
    data: { datasets },
    options: {
      responsive: false,
      animation: false,
      events: [],
      layout: { padding: { top: 10, right: 16, left: 0, bottom: 0 } },
      plugins: {
        legend: { display: false },
        tooltip: { enabled: false },
        sensNote: { text: sensLabels[i], at: p.note }
      },
      scales: {
        x: {
          type: 'linear',
          min: p.xr[0], max: p.xr[1],
          ticks: { stepSize: p.xr[2], color: INK, font: { size: 11 }, padding: 3, maxRotation: 0, autoSkip: false, callback: fmt },
          grid: { display: false, drawTicks: false },
          border: { display: true, color: INK, width: 1 },
          title: { display: true, text: 'Force (x10 g)', color: INK, font: { size: 8.5 }, padding: { top: 0, bottom: 9 } },
          afterFit(s) { s.height = 36; }
        },
        y: {
          type: 'linear',
          min: p.yr[0], max: p.yr[1],
          ticks: { stepSize: p.yr[2], color: INK, font: { size: 11 }, padding: 4, autoSkip: false, callback: fmt },
          grid: { display: false, drawTicks: false },
          border: { display: true, color: INK, width: 1 },
          title: { display: true, text: 'Obscurity (V)', color: INK, font: { size: 7 }, padding: { top: 25, bottom: 0 } },
          afterFit(s) { s.width = 60; }
        }
      }
    },
    plugins: [plotBg, inTicks, sensNote]
  });
});
</script>
</body>
</html>
